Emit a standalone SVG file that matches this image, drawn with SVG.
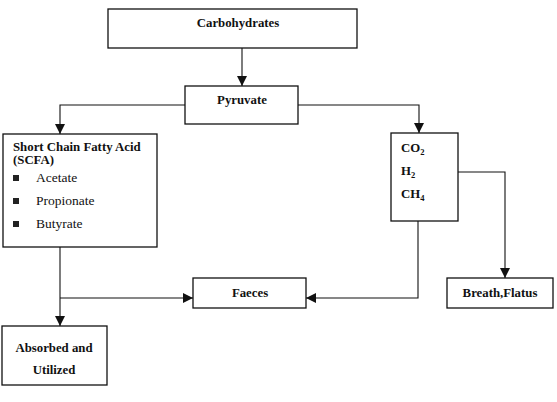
<svg xmlns="http://www.w3.org/2000/svg" width="557" height="402" viewBox="0 0 557 402">
<defs>
<style>
.box{fill:#fff;stroke:#111;stroke-width:1.3}
.t{font-family:"Liberation Serif","Times New Roman",serif;font-weight:bold;font-size:12.8px;fill:#111}
.r{font-family:"Liberation Serif","Times New Roman",serif;font-size:13.5px;fill:#111}
.c{text-anchor:middle}
.ln{fill:none;stroke:#111;stroke-width:1.1}
</style>
<marker id="ah" viewBox="0 0 10 10" refX="10" refY="5" markerWidth="10" markerHeight="10" markerUnits="userSpaceOnUse" orient="auto">
<path d="M0,0 L10,5 L0,10 Z" fill="#111"/>
</marker>
</defs>
<rect width="557" height="402" fill="#fff"/>
<g id="connectors">
<path class="ln" d="M242,48 V86" marker-end="url(#ah)"/>
<path class="ln" d="M185,105 H60 V134" marker-end="url(#ah)"/>
<path class="ln" d="M298,105 H419 V133" marker-end="url(#ah)"/>
<path class="ln" d="M60,247 V326" marker-end="url(#ah)"/>
<path class="ln" d="M60,298 H193" marker-end="url(#ah)"/>
<path class="ln" d="M418,221 V298 H306" marker-end="url(#ah)"/>
<path class="ln" d="M458,172 H505 V278" marker-end="url(#ah)"/>
</g>
<g id="carbohydrates">
<rect class="box" x="108" y="9" width="249" height="39"/>
<text class="t c" x="238" y="27">Carbohydrates</text>
</g>
<g id="pyruvate">
<rect class="box" x="185" y="86" width="113" height="38"/>
<text class="t c" x="242" y="104">Pyruvate</text>
</g>
<g id="scfa">
<rect class="box" x="3" y="134" width="154" height="113"/>
<text class="t" x="13" y="151">Short Chain Fatty Acid</text>
<text class="t" x="13" y="164">(SCFA)</text>
<rect x="13" y="175" width="6" height="6" fill="#222"/>
<text class="r" x="36" y="182">Acetate</text>
<rect x="13" y="198" width="6" height="6" fill="#222"/>
<text class="r" x="36" y="205">Propionate</text>
<rect x="13" y="221" width="6" height="6" fill="#222"/>
<text class="r" x="36" y="228">Butyrate</text>
</g>
<g id="gases">
<rect class="box" x="391" y="133" width="67" height="88"/>
<text class="t" x="401" y="152">CO<tspan font-size="8.5" dy="2.5">2</tspan></text>
<text class="t" x="401" y="175">H<tspan font-size="8.5" dy="2.5">2</tspan></text>
<text class="t" x="401" y="198">CH<tspan font-size="8.5" dy="2.5">4</tspan></text>
</g>
<g id="faeces">
<rect class="box" x="193" y="278" width="113" height="30"/>
<text class="t c" x="250" y="297" font-size="12">Faeces</text>
</g>
<g id="breath">
<rect class="box" x="447" y="278" width="106" height="30"/>
<text class="t c" x="500" y="297" font-size="13.2">Breath,Flatus</text>
</g>
<g id="absorbed">
<rect class="box" x="2" y="326" width="105" height="59"/>
<text class="t c" x="54" y="352" font-size="13.3">Absorbed and</text>
<text class="t c" x="54" y="374" font-size="13.3">Utilized</text>
</g>
</svg>
